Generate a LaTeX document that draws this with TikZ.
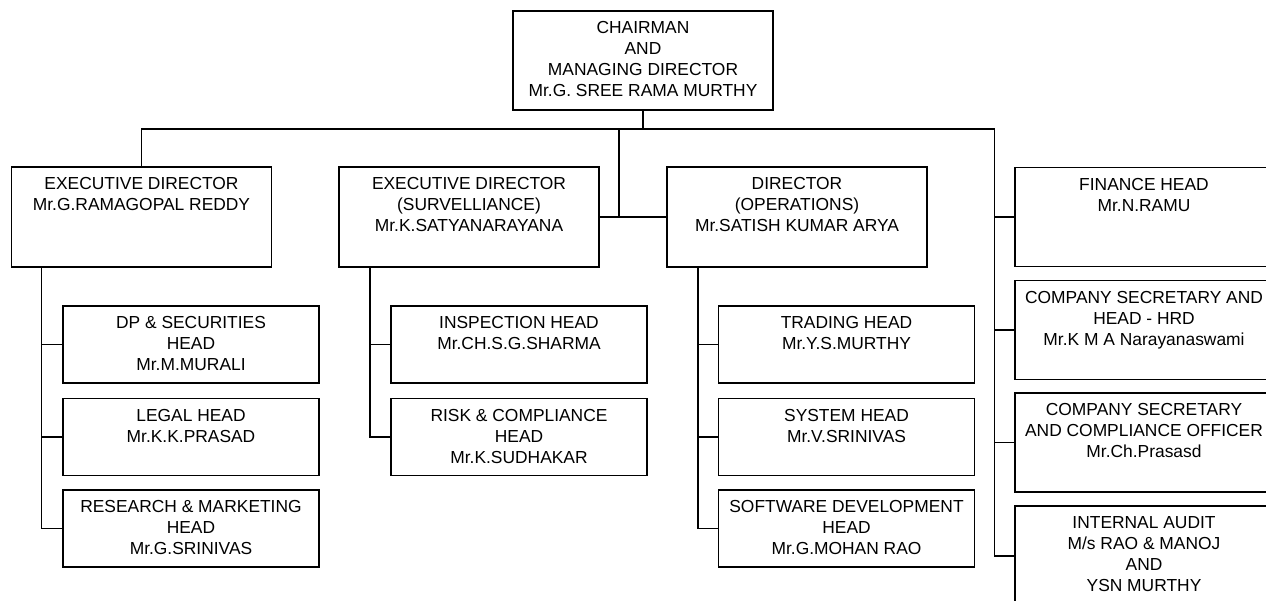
\documentclass[tikz,border=0pt]{standalone}
\usepackage{fontspec}
\setmainfont{Liberation Sans}
\newcommand\orgfont{\fontsize{17.4}{21}\selectfont}

\tikzset{
  conn/.style={line width=1.5pt},
  txt/.style={align=center, inner sep=0pt, anchor=north, yshift=-11pt, font=\orgfont},
  post/.style={draw, line width=1.6pt, inner sep=0pt, minimum width=260pt, minimum height=100pt},
  head/.style={post, minimum width=256pt, minimum height=77pt},
  side/.style={post, minimum width=258pt, minimum height=99pt},
}

\begin{document}
\begin{tikzpicture}[x=1pt,y=-1pt]
  \useasboundingbox (0,0) rectangle (1266,600);
  \clip (0,0) rectangle (1266,600);

  % top
  \node[post, minimum height=99pt, label={[txt]north:CHAIRMAN\\AND\\MANAGING DIRECTOR\\Mr.G. SREE RAMA MURTHY}] (cmd) at (643,60.5) {};

  % directors
  \node[post, label={[txt]north:EXECUTIVE DIRECTOR\\Mr.G.RAMAGOPAL REDDY}] (ed1) at (141.5,217) {};
  \node[post, label={[txt]north:EXECUTIVE DIRECTOR\\(SURVELLIANCE)\\Mr.K.SATYANARAYANA}] (ed2) at (469,217) {};
  \node[post, label={[txt]north:DIRECTOR\\(OPERATIONS)\\Mr.SATISH KUMAR ARYA}] (dop) at (797,217) {};

  % heads under the executive director
  \node[head, label={[txt]north:DP \& SECURITIES\\HEAD\\Mr.M.MURALI}] (dp) at (191,344.5) {};
  \node[head, label={[txt]north:LEGAL HEAD\\Mr.K.K.PRASAD}] (leg) at (191,437) {};
  \node[head, label={[txt]north:RESEARCH \& MARKETING\\HEAD\\Mr.G.SRINIVAS}] (res) at (191,528.5) {};

  % heads under surveillance
  \node[head, label={[txt]north:INSPECTION HEAD\\Mr.CH.S.G.SHARMA}] (insp) at (519,344.5) {};
  \node[head, label={[txt]north:RISK \& COMPLIANCE\\HEAD\\Mr.K.SUDHAKAR}] (risk) at (519,437) {};

  % heads under operations
  \node[head, label={[txt]north:TRADING HEAD\\Mr.Y.S.MURTHY}] (trd) at (846.5,344.5) {};
  \node[head, label={[txt]north:SYSTEM HEAD\\Mr.V.SRINIVAS}] (sys) at (846.5,437) {};
  \node[head, label={[txt]north:SOFTWARE DEVELOPMENT\\HEAD\\Mr.G.MOHAN RAO}] (sw) at (846.5,528.5) {};

  % staff column on the right
  \node[side, label={[txt]north:FINANCE HEAD\\Mr.N.RAMU}] (fin) at (1144,217) {};
  \node[side, label={[txt]north:COMPANY SECRETARY AND\\HEAD - HRD\\Mr.K M A Narayanaswami}] (cs) at (1144,330) {};
  \node[side, label={[txt]north:COMPANY SECRETARY\\AND COMPLIANCE OFFICER\\Mr.Ch.Prasasd}] (cso) at (1144,442.5) {};
  \node[side, minimum height=100pt, label={[txt]north:INTERNAL AUDIT\\M/s RAO \& MANOJ\\AND\\YSN MURTHY}] (aud) at (1144,556) {};

  % connectors
  \coordinate (bus) at (643,129);
  \coordinate (rtop) at (994.5,129);
  \coordinate (mid) at (619,217);
  \draw[conn] (cmd.south) -- (bus);
  \draw[conn] (ed1.north) |- (rtop);
  \draw[conn] (mid |- bus) -- (mid);
  \draw[conn] (ed2.east) -- (dop.west);
  \foreach \b in {dp,leg,res}
    \draw[conn] ([xshift=31pt]ed1.south west) |- (\b.west);
  \foreach \b in {insp,risk}
    \draw[conn] ([xshift=32pt]ed2.south west) |- (\b.west);
  \foreach \b in {trd,sys,sw}
    \draw[conn] ([xshift=32pt]dop.south west) |- (\b.west);
  \foreach \b in {fin,cs,cso,aud}
    \draw[conn] (rtop) |- (\b.west);
\end{tikzpicture}
\end{document}
